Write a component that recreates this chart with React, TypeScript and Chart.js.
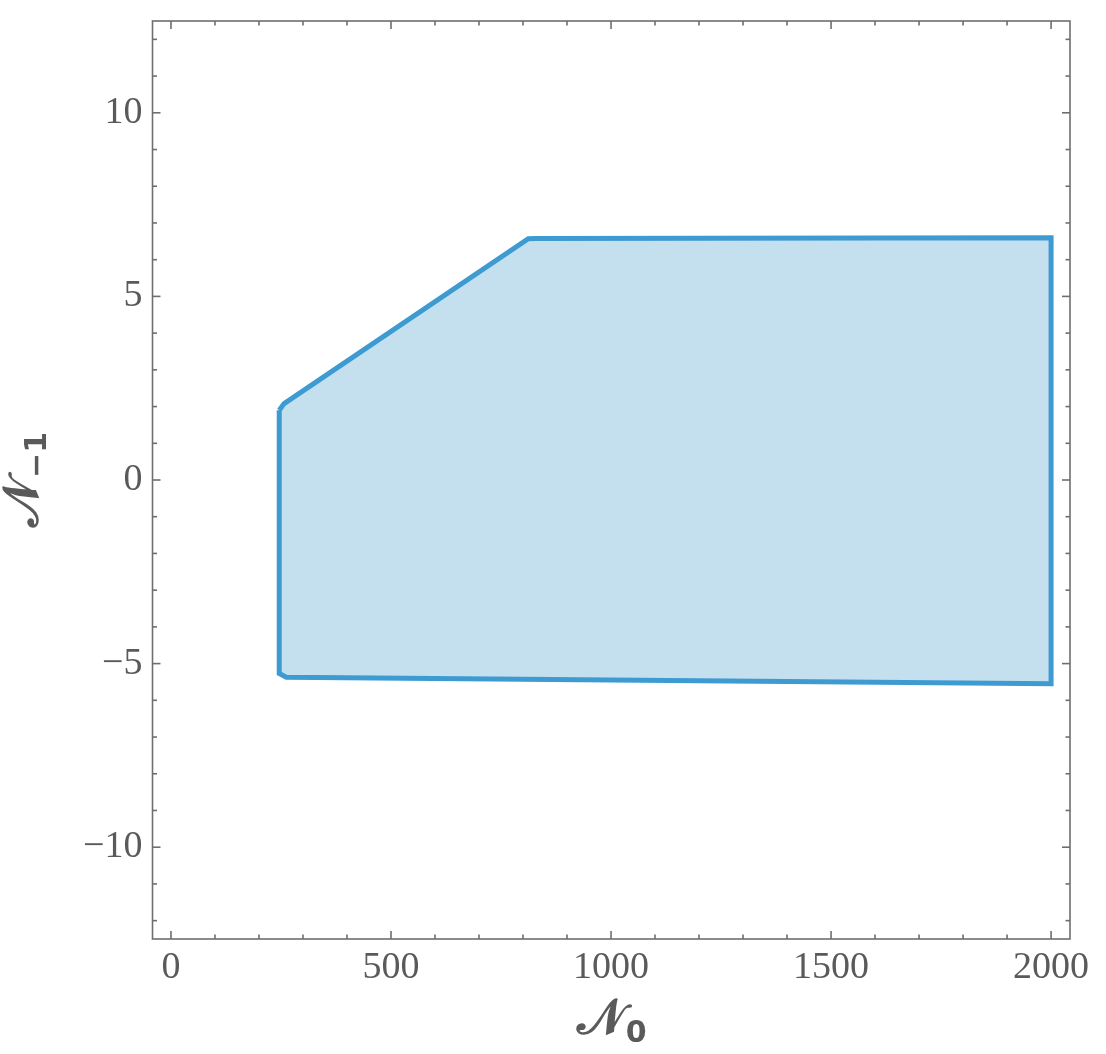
import { useEffect, useRef } from "react";
import { Chart, registerables } from "chart.js";

Chart.register(...registerables);

// Boundary of the allowed region (N0, N-1), closed polygon
const regionN0 = [246, 257, 812, 830, 2000, 2000, 262, 246, 246];
const regionN1 = [1.9, 2.08, 6.57, 6.58, 6.6, -5.55, -5.37, -5.27, 1.9];

const xTickValues = [0, 500, 1000, 1500, 2000];
const yTickValues = [-10, -5, 0, 5, 10];
const xMinorStep = 100;
const yMinorStep = 1;
const xLimits = [-42, 2043];
const yLimits = [-12.5, 12.5];
const xTitleMain = "𝒩";
const xTitleSub = "0";
const yTitleMain = "𝒩";
const yTitleSub = "−1";

const AXIS_COLOR = "#6e6e6e";
const TEXT_COLOR = "#5a5a5a";
const SERIF = "'Liberation Serif', 'DejaVu Serif', serif";

const framePlugin = {
  id: "frameTicks",
  afterDraw(chart: any) {
    const { ctx, chartArea: a, scales } = chart;
    const x = scales.x;
    const y = scales.y;
    ctx.save();
    ctx.strokeStyle = AXIS_COLOR;
    ctx.lineWidth = 1.6;
    ctx.strokeRect(a.left, a.top, a.right - a.left, a.bottom - a.top);
    const seg = (x1: number, y1: number, x2: number, y2: number) => {
      ctx.beginPath();
      ctx.moveTo(x1, y1);
      ctx.lineTo(x2, y2);
      ctx.stroke();
    };
    const xStart = Math.ceil(x.min / xMinorStep) * xMinorStep;
    for (let v = xStart; v <= x.max; v += xMinorStep) {
      const px = x.getPixelForValue(v);
      const major = xTickValues.includes(v);
      const len = major ? 8 : 4.5;
      seg(px, a.bottom, px, a.bottom - len);
      seg(px, a.top, px, a.top + len);
    }
    const yStart = Math.ceil(y.min / yMinorStep) * yMinorStep;
    for (let v = yStart; v <= y.max; v += yMinorStep) {
      const py = y.getPixelForValue(v);
      const major = yTickValues.includes(v);
      const len = major ? 8 : 4.5;
      seg(a.left, py, a.left + len, py);
      seg(a.right, py, a.right - len, py);
    }

    // axis titles
    ctx.fillStyle = TEXT_COLOR;
    ctx.textBaseline = "alphabetic";
    ctx.textAlign = "left";
    const mainFont = "bold 50px 'DejaVu Serif', 'Liberation Serif', serif";
    const subFont = "bold 30px 'DejaVu Sans', 'Liberation Sans', sans-serif";
    const drawTitle = (main: string, sub: string, cx: number, baseY: number) => {
      ctx.font = mainFont;
      const mw = ctx.measureText(main).width;
      ctx.font = subFont;
      const sw = ctx.measureText(sub).width;
      const start = cx - (mw + sw) / 2;
      ctx.font = mainFont;
      ctx.fillText(main, start, baseY);
      ctx.font = subFont;
      ctx.fillText(sub, start + mw + 1, baseY + 8);
    };
    const xc = (a.left + a.right) / 2;
    drawTitle(xTitleMain, xTitleSub, xc, 1034);
    ctx.save();
    ctx.translate(22, (a.top + a.bottom) / 2);
    ctx.rotate(-Math.PI / 2);
    drawTitle(yTitleMain, yTitleSub, 0, 16);
    ctx.restore();
    ctx.restore();
  },
};

export default function App() {
  const ref = useRef<HTMLCanvasElement>(null);
  useEffect(() => {
    if (!ref.current) return;
    const points = regionN0.map((v, i) => ({ x: v, y: regionN1[i] }));
    const chart = new Chart(ref.current, {
      type: "scatter",
      data: {
        datasets: [
          {
            data: points,
            showLine: true,
            fill: "shape",
            backgroundColor: "rgba(196, 223, 238, 1)",
            borderColor: "#3d9bd2",
            borderWidth: 5,
            borderJoinStyle: "miter",
            pointRadius: 0,
            tension: 0,
          } as any,
        ],
      },
      options: {
        responsive: false,
        animation: false,
        layout: { padding: { top: 21, right: 36, left: 0, bottom: 0 } },
        plugins: { legend: { display: false }, tooltip: { enabled: false } },
        scales: {
          x: {
            type: "linear",
            min: xLimits[0],
            max: xLimits[1],
            afterBuildTicks: (s: any) => {
              s.ticks = xTickValues.map((v) => ({ value: v }));
            },
            afterFit: (s: any) => {
              s.height = 115;
              s.paddingLeft = 0;
              s.paddingRight = 0;
            },
            grid: { display: false, drawTicks: false },
            border: { display: false },
            ticks: {
              padding: 6,
              color: TEXT_COLOR,
              font: { family: SERIF, size: 38 },
              maxRotation: 0,
              callback: (v: any) => String(v),
            },
          },
          y: {
            type: "linear",
            min: yLimits[0],
            max: yLimits[1],
            afterBuildTicks: (s: any) => {
              s.ticks = yTickValues.map((v) => ({ value: v }));
            },
            afterFit: (s: any) => {
              s.width = 152.5;
              s.paddingTop = 0;
              s.paddingBottom = 0;
            },
            grid: { display: false, drawTicks: false },
            border: { display: false },
            ticks: {
              padding: 10,
              color: TEXT_COLOR,
              font: { family: SERIF, size: 38 },
              callback: (v: any) => (v < 0 ? "−" + Math.abs(v) : String(v)),
            },
          },
        },
      },
      plugins: [framePlugin],
    });
    return () => chart.destroy();
  }, []);
  return (
    <div style={{ position: "absolute", left: 0, top: 0, width: 1106, height: 1054, background: "#fff" }}>
      <canvas ref={ref} width={1106} height={1054} style={{ display: "block" }} />
    </div>
  );
}
